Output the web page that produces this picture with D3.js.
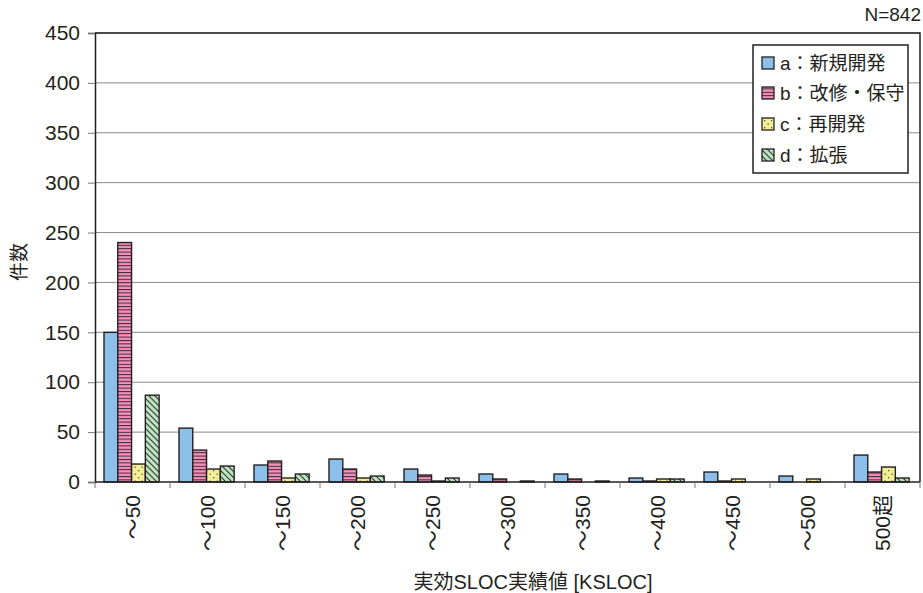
<!DOCTYPE html>
<html><head><meta charset="utf-8">
<script src="https://cdn.jsdelivr.net/npm/d3@7"></script>
<style>
body{margin:0;background:#fff;}
text{font-family:"Liberation Sans","Noto Sans CJK JP",sans-serif;fill:#231f20;}
</style></head>
<body><svg id="c" width="923" height="593"></svg>
<script>
const categories = ["～50","～100","～150","～200","～250","～300","～350","～400","～450","～500","500超"];
const seriesNames = ["a：新規開発","b：改修・保守","c：再開発","d：拡張"];
const seriesA = [150,54,17,23,13,8,8,4,10,6,27];
const seriesB = [240,32,21,13,7,3,3,1,1,0,10];
const seriesC = [18,13,4,4,1,0,0,3,3,3,15];
const seriesD = [87,16,8,6,4,1,1,3,0,0,4];
const yTicks = [0,50,100,150,200,250,300,350,400,450];
const allSeries = [seriesA,seriesB,seriesC,seriesD];

const svg = d3.select("#c");
const L=95, R=920, T=33, B=482;
const x0 = d3.scaleBand().domain(categories).range([L,R]).padding(0);
const x1 = d3.scaleBand().domain(d3.range(4)).range([x0.bandwidth()*0.12, x0.bandwidth()*0.855]).padding(0);
const y = d3.scaleLinear().domain([0,450]).range([B,T]);

const defs = svg.append("defs");
const fills = ["#8cc0ea","url(#pB)","url(#pC)","url(#pD)"];
const pB = defs.append("pattern").attr("id","pB").attr("patternUnits","userSpaceOnUse").attr("width",6).attr("height",3.4);
pB.append("rect").attr("width",6).attr("height",3.4).attr("fill","#f490bb");
pB.append("rect").attr("y",0).attr("width",6).attr("height",1).attr("fill","#3a2a30");
const pC = defs.append("pattern").attr("id","pC").attr("patternUnits","userSpaceOnUse").attr("width",7).attr("height",7);
pC.append("rect").attr("width",7).attr("height",7).attr("fill","#f3ee95");
pC.append("rect").attr("x",1).attr("y",1).attr("width",1.3).attr("height",1.3).attr("fill","#555");
pC.append("rect").attr("x",4.5).attr("y",4.5).attr("width",1.3).attr("height",1.3).attr("fill","#555");
const pD = defs.append("pattern").attr("id","pD").attr("patternUnits","userSpaceOnUse").attr("width",6).attr("height",6);
pD.append("rect").attr("width",6).attr("height",6).attr("fill","#bde3bf");
pD.append("path").attr("d","M-1,-1 L7,7 M-1,5 L1,7 M5,-1 L7,1").attr("stroke","#2f3a30").attr("stroke-width",1.1);

svg.append("g").selectAll("line").data(yTicks.filter(v=>v>0)).join("line")
  .attr("x1",L).attr("x2",R).attr("y1",d=>y(d)).attr("y2",d=>y(d))
  .attr("stroke","#8a8a8a").attr("stroke-width",1);

const yAxis = d3.axisLeft(y).tickValues(yTicks).tickSize(7).tickPadding(8);
const gy = svg.append("g").attr("transform",`translate(${L},0)`).call(yAxis);
gy.select(".domain").attr("stroke","#231f20").attr("stroke-width",1.5);
gy.selectAll(".tick line").attr("stroke","#777");
gy.selectAll("text").attr("font-size",21).style("fill","#231f20").attr("font-family","Liberation Sans");

svg.append("path").attr("d",`M${L},${T}H${R}V${B}`).attr("fill","none").attr("stroke","#231f20").attr("stroke-width",1.5);

const groups = svg.append("g").selectAll("g").data(categories).join("g")
  .attr("transform",c=>`translate(${x0(c)},0)`);
groups.selectAll("rect").data((c,i)=>allSeries.map((s,k)=>({k,v:s[i]}))).join("rect")
  .attr("x",d=>x1(d.k)).attr("width",x1.bandwidth())
  .attr("y",d=>y(d.v)).attr("height",d=>B-y(d.v))
  .attr("fill",d=>fills[d.k]).attr("stroke","#231f20").attr("stroke-width",1.4);

svg.append("line").attr("x1",L).attr("x2",R).attr("y1",B).attr("y2",B).attr("stroke","#231f20").attr("stroke-width",1.5);
const tickXs = categories.map(c=>x0(c)).concat([R]);
svg.append("g").selectAll("line").data(tickXs).join("line")
  .attr("x1",d=>d).attr("x2",d=>d).attr("y1",B).attr("y2",B+6).attr("stroke","#777");

svg.append("g").selectAll("text").data(categories).join("text")
  .attr("transform",c=>`translate(${x0(c)+x0.bandwidth()/2+7.5},495) rotate(-90)`)
  .attr("text-anchor","end").attr("font-size",21).text(c=>c);

svg.append("text").attr("transform","translate(26,262) rotate(-90)").attr("text-anchor","middle")
  .attr("font-size",19).text("件数");
svg.append("text").attr("x",533).attr("y",589).attr("text-anchor","middle").attr("font-size",20).text("実効SLOC実績値 [KSLOC]");
svg.append("text").attr("x",921).attr("y",21).attr("text-anchor","end").attr("font-size",19).text("N=842");

const lg = svg.append("g");
lg.append("rect").attr("x",753).attr("y",45).attr("width",155).attr("height",128).attr("fill","#fff").attr("stroke","#231f20").attr("stroke-width",1.5);
const rowsY = [63,93,124,155];
seriesNames.forEach((n,k)=>{
  lg.append("rect").attr("x",762).attr("y",rowsY[k]-6).attr("width",12).attr("height",12)
    .attr("fill",fills[k]).attr("stroke","#231f20").attr("stroke-width",1.3);
  lg.append("text").attr("x",780).attr("y",rowsY[k]+7).attr("font-size",19).text(n);
});
</script></body></html>
